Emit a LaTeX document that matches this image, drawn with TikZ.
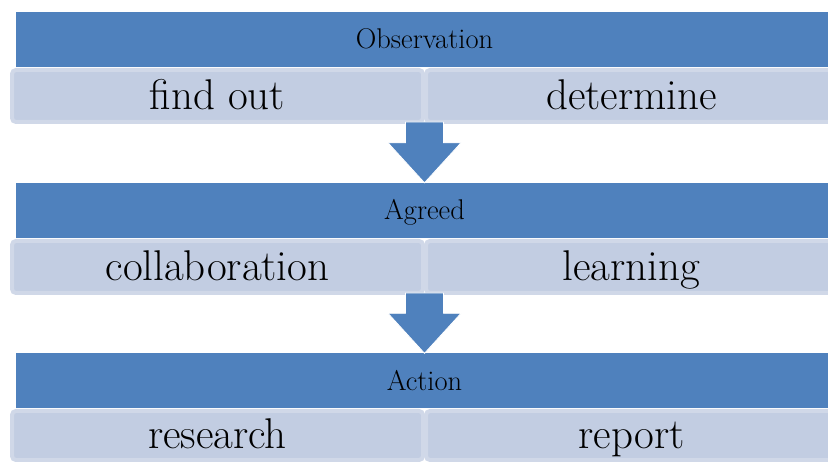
\documentclass[tikz,border=0pt]{standalone}
\usepackage{tikz}
\usetikzlibrary{calc, positioning}
\definecolor{xblue}{HTML}{4F81BD}
\definecolor{xcell}{HTML}{C2CDE2}
\definecolor{xcelledge}{HTML}{D0D8E8}
\tikzset{
  header/.style = {rectangle, fill=xblue, minimum width=818pt, minimum height=55pt, inner sep=0pt, text height=20pt, text depth=1pt, font=\fontsize{28.5}{32}\selectfont},
  cell/.style = {rectangle, rounded corners=4pt, fill=xcell, draw=xcelledge, line width=4pt, minimum width=411pt, minimum height=52pt, inner sep=0pt, text height=30pt, text depth=3pt, font=\fontsize{43}{48}\selectfont},
  blockarrow/.style = {fill=xblue, draw=white, line width=0.8pt, line join=miter,
    to path={($(\tikztostart)+(-19,-2)$) -- ($(\tikztostart)+(19,-2)$) -- ($(\tikztotarget)+(19,-40)$) -- ($(\tikztotarget)+(36.5,-40)$) -- (\tikztotarget) -- ($(\tikztotarget)+(-36.5,-40)$) -- ($(\tikztotarget)+(-19,-40)$) -- cycle}},
}

\begin{document}
\begin{tikzpicture}[x=1pt, y=-1pt]
  \useasboundingbox (0,0) rectangle (828,462);
  \clip (0,0) rectangle (828,462);
  % first row
  \node[header] (obs) at (424.5,39.5) {Observation};
  \node[cell] (obs-l) at (217.5,96) {find out};
  \node[cell] (obs-r) at (631.5,96) {determine};
  % second row
  \node[header] (agr) at (424.5,210.5) {Agreed};
  \node[cell] (agr-l) at (217.5,267) {collaboration};
  \node[cell] (agr-r) at (631.5,267) {learning};
  % third row
  \node[header] (act) at (424.5,381) {Action};
  \node[cell, minimum height=49pt] (act-l) at (217.5,435.5) {research};
  \node[cell, minimum height=49pt] (act-r) at (631.5,435.5) {report};
  % arrows between rows
  \draw[blockarrow] ($(obs-l.south east)!0.5!(obs-r.south west)$) to (agr.north);
  \draw[blockarrow] ($(agr-l.south east)!0.5!(agr-r.south west)$) to (act.north);
\end{tikzpicture}
\end{document}
